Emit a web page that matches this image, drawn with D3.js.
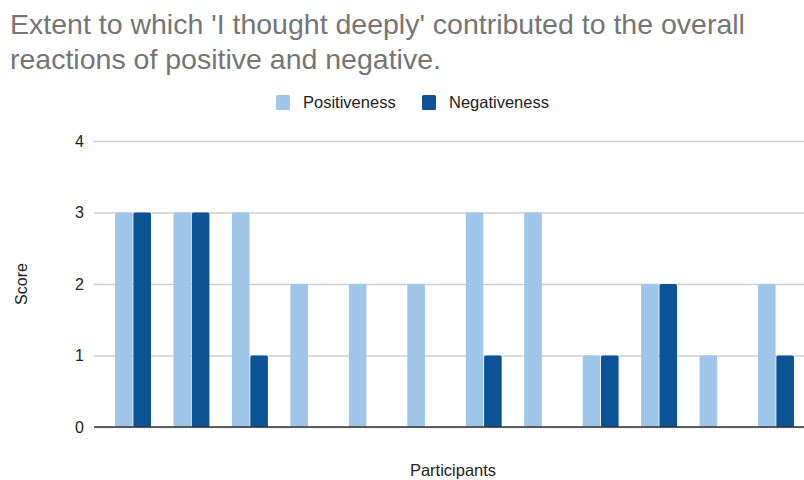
<!DOCTYPE html>
<html>
<head>
<meta charset="utf-8">
<script src="https://cdn.jsdelivr.net/npm/d3@7"></script>
<style>
  body { margin: 0; background: #fff; }
  text { font-family: "Liberation Sans", Arial, sans-serif; }
</style>
</head>
<body>
<svg id="chart" width="804" height="480"></svg>
<script>
// Données du graphique
const participants = ['P1', 'P2', 'P3', 'P4', 'P5', 'P6', 'P7', 'P8', 'P9', 'P10', 'P11', 'P12'];
const positiveness = [3, 3, 3, 2, 2, 2, 3, 3, 1, 2, 1, 2];
const negativeness = [3, 3, 1, 0, 0, 0, 1, 0, 1, 2, 0, 1];
const yTicks = [0, 1, 2, 3, 4];
const seriesNames = ['Positiveness', 'Negativeness'];
const colors = ['#9fc5e8', '#0b5394'];

const svg = d3.select('#chart');
const margin = { top: 141, left: 94, bottom: 53 };
const height = +svg.attr('height');
const plotBottom = height - margin.bottom;

// Echelles
const x = d3.scaleBand()
    .domain(participants)
    .range([margin.left, 815])
    .paddingInner(0.385)
    .paddingOuter(0.36);

const xInner = d3.scaleBand()
    .domain(seriesNames)
    .range([0, x.bandwidth()])
    .paddingInner(0.04);

const y = d3.scaleLinear()
    .domain([0, 4])
    .range([plotBottom, margin.top]);

// Titre
const title = svg.append('text')
    .attr('fill', '#757575')
    .style('font-size', '28.5px');
title.append('tspan').attr('x', 10).attr('y', 34)
    .text("Extent to which 'I thought deeply' contributed to the overall");
title.append('tspan').attr('x', 10).attr('y', 69)
    .text('reactions of positive and negative.');

// Légende
const legend = svg.append('g');
const legendItems = [
    { name: seriesNames[0], color: colors[0], x: 276 },
    { name: seriesNames[1], color: colors[1], x: 422 }
];
legendItems.forEach(d => {
    legend.append('rect')
        .attr('x', d.x).attr('y', 95)
        .attr('width', 14).attr('height', 15)
        .attr('rx', 1.5)
        .attr('fill', d.color);
    legend.append('text')
        .attr('x', d.x + 27).attr('y', 108)
        .attr('fill', '#222')
        .style('font-size', '16.5px')
        .text(d.name);
});

// Grille
const yAxis = d3.axisLeft(y)
    .tickValues(yTicks)
    .tickSize(-(804 - margin.left))
    .tickFormat(d3.format('d'));

const yAxisG = svg.append('g')
    .attr('transform', `translate(${margin.left},0)`)
    .call(yAxis);
yAxisG.select('.domain').remove();
yAxisG.selectAll('.tick line').attr('stroke', '#cccccc').attr('stroke-width', 1.3);
yAxisG.selectAll('.tick text')
    .attr('x', -10)
    .attr('fill', '#222')
    .style('font-size', '16px')
    .style('font-family', '"Liberation Sans", Arial, sans-serif');

// Barres
const groups = svg.append('g')
    .selectAll('g')
    .data(participants)
    .enter().append('g')
    .attr('transform', d => `translate(${x(d)},0)`);

groups.selectAll('path')
    .data((d, i) => [
        { series: seriesNames[0], value: positiveness[i], color: colors[0] },
        { series: seriesNames[1], value: negativeness[i], color: colors[1] }
    ].filter(b => b.value > 0))
    .enter().append('path')
    .attr('fill', b => b.color)
    .attr('d', b => {
        const x0 = xInner(b.series);
        const w = xInner.bandwidth();
        const y0 = y(b.value);
        const r = 2;
        return `M${x0},${plotBottom} V${y0 + r} Q${x0},${y0} ${x0 + r},${y0} H${x0 + w - r} Q${x0 + w},${y0} ${x0 + w},${y0 + r} V${plotBottom} Z`;
    });

// Ligne de base
svg.append('line')
    .attr('x1', margin.left).attr('x2', 804)
    .attr('y1', y(0)).attr('y2', y(0))
    .attr('stroke', '#333').attr('stroke-width', 1.5);

// Titres des axes
svg.append('text')
    .attr('transform', `translate(27,${(margin.top + plotBottom) / 2}) rotate(-90)`)
    .attr('text-anchor', 'middle')
    .attr('fill', '#222')
    .style('font-size', '16px')
    .text('Score');

svg.append('text')
    .attr('x', 453).attr('y', 476)
    .attr('text-anchor', 'middle')
    .attr('fill', '#222')
    .style('font-size', '16.5px')
    .text('Participants');
</script>
</body>
</html>
